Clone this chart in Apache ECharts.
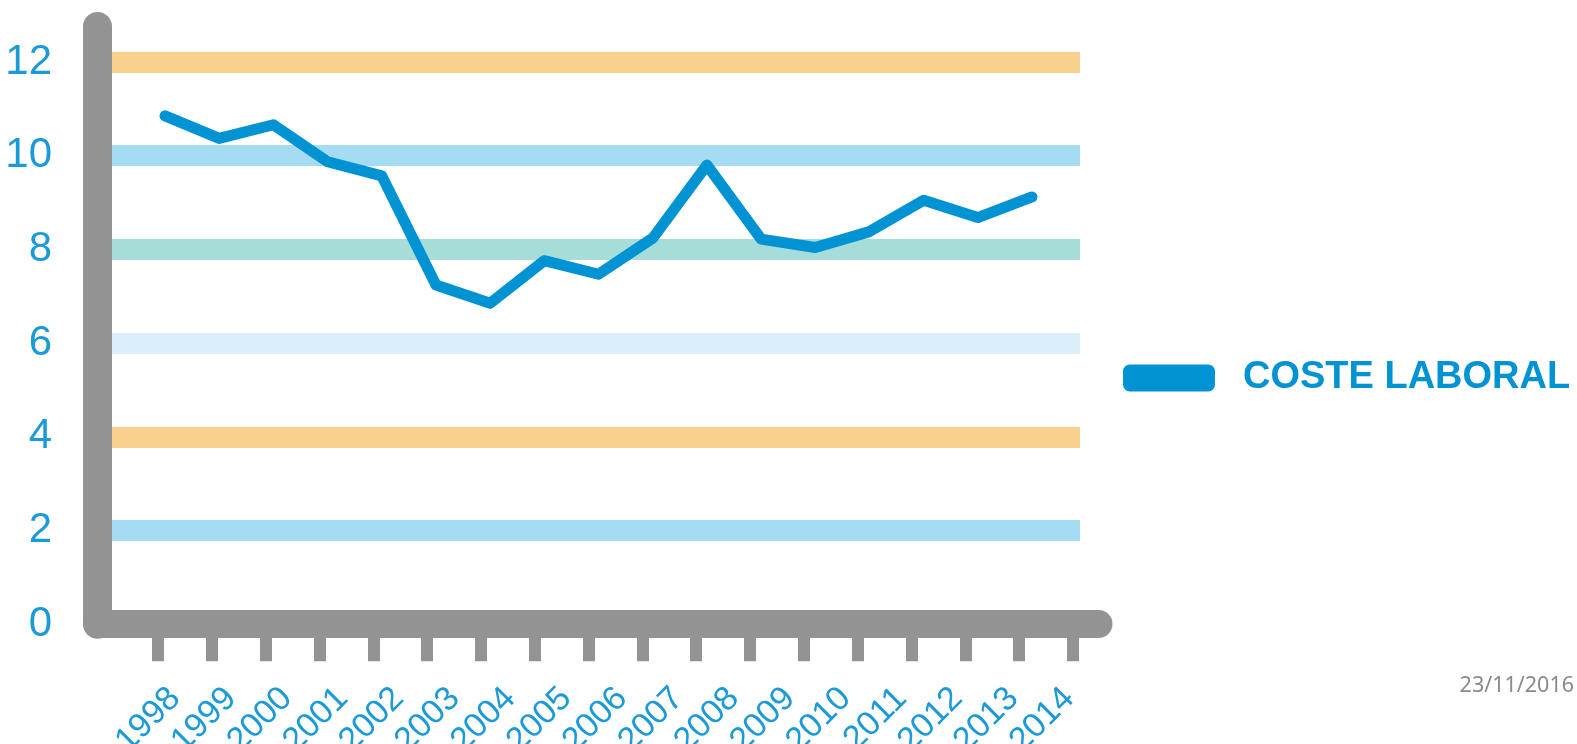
<!DOCTYPE html>
<html>
<head>
<meta charset="utf-8">
<script src="https://cdn.jsdelivr.net/npm/echarts@6.0.0/dist/echarts.min.js"></script>
<style>
  html, body { margin: 0; padding: 0; background: #ffffff; }
  #chart { width: 1577px; height: 744px; }
</style>
</head>
<body>
<div id="chart"></div>
<script>
// ---- data ----
const years = ['1998','1999','2000','2001','2002','2003','2004','2005','2006','2007','2008','2009','2010','2011','2012','2013','2014'];
const costeLaboral = [10.85, 10.37, 10.66, 9.87, 9.57, 7.24, 6.85, 7.76, 7.47, 8.24, 9.80, 8.22, 8.04, 8.38, 9.05, 8.68, 9.12];
const seriesName = 'COSTE LABORAL';
const dateText = '23/11/2016';

// ---- styles ----
const GRAY = '#939393';
const LINE_BLUE = '#0093D3';
const LABEL_BLUE = '#1A9AD6';
const bandColors = ['rgba(0,0,0,0)', '#A6DCF3', '#FAD08E', '#DAEFFA', '#A6DDD8', '#A6DCF3', '#FAD08E', 'rgba(0,0,0,0)'];
const labelFont = "'Liberation Sans', Arial, sans-serif";

const Y_MAX = 12.758;
const TOP = 26.5, BOTTOM = 119.8;

const chart = echarts.init(document.getElementById('chart'), null, { renderer: 'canvas' });

const pts = years.map((y, i) => [Number(y), costeLaboral[i]]);

const gridBase = { top: TOP, bottom: BOTTOM, containLabel: false, outerBoundsMode: 'none' };

chart.setOption({
  animation: false,
  backgroundColor: '#ffffff',
  title: {
    text: dateText,
    right: 3, top: 675, padding: 0,
    textStyle: { fontFamily: "'Noto Sans', sans-serif", fontSize: 21.5, fontWeight: 'normal', color: '#8a8a8a' }
  },
  legend: {
    data: [seriesName],
    left: 1123, top: 359, padding: 0,
    icon: 'roundRect',
    itemWidth: 92, itemHeight: 27,
    textStyle: {
      fontFamily: "'Liberation Sans', Arial, sans-serif",
      fontWeight: 'bold', fontSize: 38, color: LINE_BLUE,
      padding: [0, 0, 0, 23]
    }
  },
  grid: [
    Object.assign({ left: 97.5, right: 478.5 }, gridBase),   // data + gray axes
    Object.assign({ left: 112, right: 497 }, gridBase),      // bands
    Object.assign({ left: 158, right: 504 }, gridBase),      // tick blocks
    Object.assign({ left: 175, right: 508 }, gridBase)       // year labels
  ],
  xAxis: [
    {
      gridIndex: 0, type: 'value', min: 1996.754, max: 2015.227,
      axisLine: { show: true, onZero: false, lineStyle: { color: GRAY, width: 28, cap: 'round' } },
      axisTick: { show: false }, axisLabel: { show: false }, splitLine: { show: false }
    },
    { gridIndex: 1, type: 'value', min: 0, max: 1, show: false },
    {
      gridIndex: 2, type: 'category', data: years, boundaryGap: true,
      axisLine: { show: false },
      axisTick: { show: true, interval: 0, length: 37, lineStyle: { color: GRAY, width: 12 } },
      axisLabel: { show: false, interval: 0 }, splitLine: { show: false }
    },
    {
      gridIndex: 3, type: 'category', data: years, boundaryGap: false,
      axisLine: { show: false }, axisTick: { show: false }, splitLine: { show: false },
      axisLabel: {
        show: true, interval: 0, rotate: 45, margin: 69,
        fontFamily: labelFont, fontSize: 34, color: LABEL_BLUE
      }
    }
  ],
  yAxis: [
    {
      gridIndex: 0, type: 'value', min: 0, max: Y_MAX, interval: 2,
      axisLine: { show: true, onZero: false, lineStyle: { color: GRAY, width: 29, cap: 'round' } },
      axisTick: { show: false }, splitLine: { show: false },
      axisLabel: {
        show: true, margin: 45.5, showMaxLabel: false,
        fontFamily: labelFont, fontSize: 42, color: LABEL_BLUE
      }
    },
    {
      gridIndex: 1, type: 'value', min: 0, max: Y_MAX, interval: 2,
      axisLine: { show: false }, axisTick: { show: false }, axisLabel: { show: false },
      splitLine: { show: true, lineStyle: { color: bandColors, width: 21 } }
    },
    { gridIndex: 2, type: 'value', min: 0, max: 1, show: false },
    { gridIndex: 3, type: 'value', min: 0, max: 1, show: false }
  ],
  series: [
    {
      name: seriesName, type: 'line', xAxisIndex: 0, yAxisIndex: 0,
      data: pts, symbol: 'none', z: 5,
      itemStyle: { color: LINE_BLUE },
      lineStyle: { color: LINE_BLUE, width: 11, cap: 'round', join: 'round' }
    }
  ]
});
</script>
</body>
</html>
